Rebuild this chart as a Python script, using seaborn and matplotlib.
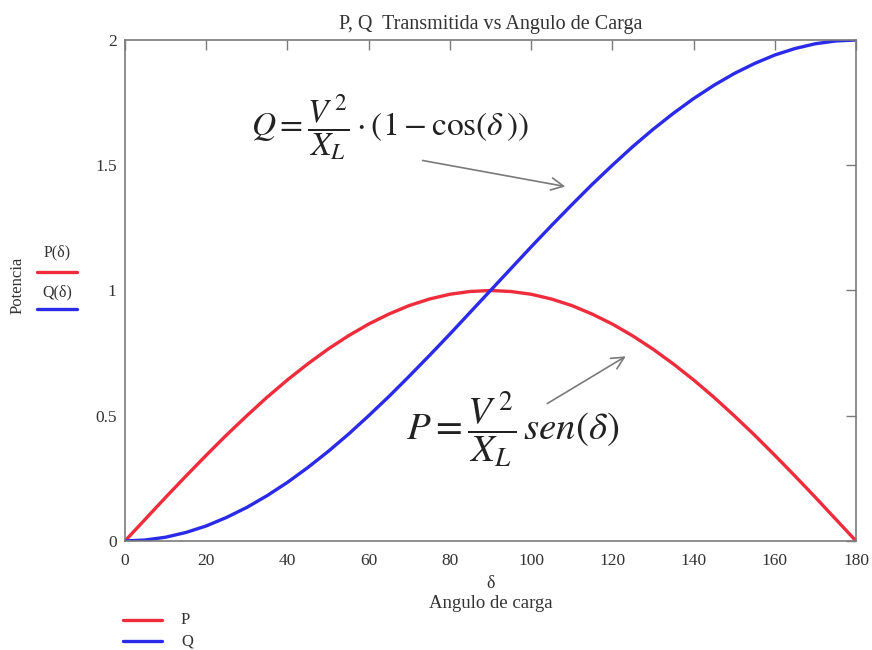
import matplotlib
matplotlib.use("Agg")
import matplotlib.pyplot as plt
import seaborn as sns
import pandas as pd
from matplotlib.lines import Line2D

# Load angle (degrees) and transmitted power values
delta = [0, 5, 10, 15, 20, 25, 30, 35, 40, 45, 50, 55, 60, 65, 70, 75, 80, 85, 90,
         95, 100, 105, 110, 115, 120, 125, 130, 135, 140, 145, 150, 155, 160, 165,
         170, 175, 180]
p_vals = [0.0, 0.087, 0.174, 0.259, 0.342, 0.423, 0.5, 0.574, 0.643, 0.707, 0.766,
          0.819, 0.866, 0.906, 0.940, 0.966, 0.985, 0.996, 1.0, 0.996, 0.985, 0.966,
          0.940, 0.906, 0.866, 0.819, 0.766, 0.707, 0.643, 0.574, 0.5, 0.423, 0.342,
          0.259, 0.174, 0.087, 0.0]
q_vals = [0.0, 0.004, 0.015, 0.034, 0.060, 0.094, 0.134, 0.181, 0.234, 0.293, 0.357,
          0.426, 0.5, 0.577, 0.658, 0.741, 0.826, 0.913, 1.0, 1.087, 1.174, 1.259,
          1.342, 1.423, 1.5, 1.574, 1.643, 1.707, 1.766, 1.819, 1.866, 1.906, 1.940,
          1.966, 1.985, 1.996, 2.0]
x_ticks = [0, 20, 40, 60, 80, 100, 120, 140, 160, 180]
y_ticks = [0, 0.5, 1, 1.5, 2]
y_tick_labels = ["0", "0.5", "1", "1.5", "2"]

RED = "#ee2c3c"
BLUE = "#2a2ae8"
GRAY = "#7a7a7a"
TXT = "#333333"

sns.set_theme(style="white")
plt.rcParams["font.family"] = ["Liberation Serif", "DejaVu Serif"]
plt.rcParams["mathtext.fontset"] = "stix"

df = pd.DataFrame({"delta": delta, "P": p_vals, "Q": q_vals})

fig = plt.figure(figsize=(8.72, 6.5), dpi=100)
ax = fig.add_axes([0.1433, 0.1677, 0.8384, 0.7708])

sns.lineplot(data=df, x="delta", y="P", ax=ax, color=RED, linewidth=2.4)
sns.lineplot(data=df, x="delta", y="Q", ax=ax, color=BLUE, linewidth=2.4)

ax.set_xlim(0, 180)
ax.set_ylim(0, 2)
ax.set_xticks(x_ticks)
ax.set_yticks(y_ticks)
ax.set_yticklabels(y_tick_labels)
ax.tick_params(axis="both", direction="in", length=7, width=1, color=GRAY,
               labelsize=12.5, labelcolor=TXT, top=True, right=True)
ax.tick_params(axis="x", pad=9)
ax.tick_params(axis="y", pad=6)
for s in ax.spines.values():
    s.set_visible(True)
    s.set_color(GRAY)
    s.set_linewidth(1.2)

ax.set_xlabel("")
ax.set_ylabel("")
ax.set_title("P, Q  Transmitida vs Angulo de Carga", fontsize=14.5, color=TXT, pad=8)

# x-axis label (two lines)
fig.text(0.5625, 1 - 584 / 650, "δ", ha="center", va="center", fontsize=13, color=TXT)
fig.text(0.5625, 1 - 603 / 650, "Angulo de carga", ha="center", va="center",
         fontsize=13.5, color=TXT)

# y-axis label with trace legend
fig.text(18 / 872, 1 - 285 / 650, "Potencia", rotation=90, ha="center", va="center",
         fontsize=12, color=TXT)
fig.text(57 / 872, 1 - 252 / 650, "P(δ)", ha="center", va="center", fontsize=11.5,
         color=TXT)
fig.add_artist(Line2D([37 / 872, 77 / 872], [1 - 272 / 650] * 2, color=RED, lw=2.4))
fig.text(57 / 872, 1 - 292 / 650, "Q(δ)", ha="center", va="center", fontsize=11.5,
         color=TXT)
fig.add_artist(Line2D([37 / 872, 77 / 872], [1 - 309 / 650] * 2, color=BLUE, lw=2.4))

# bottom legend
fig.add_artist(Line2D([123 / 872, 162 / 872], [1 - 620 / 650] * 2, color=RED, lw=2.4))
fig.text(181 / 872, 1 - 620 / 650, "P", ha="left", va="center", fontsize=12, color=TXT)
fig.add_artist(Line2D([123 / 872, 162 / 872], [1 - 641 / 650] * 2, color=BLUE, lw=2.4))
fig.text(181 / 872, 1 - 641 / 650, "Q", ha="left", va="center", fontsize=12, color=TXT)

# formulas with arrows
ax.text(65.3, 1.65, r"$Q=\dfrac{V^{\,2}}{X_L}\cdot(1-\cos(\delta\,))$",
        ha="center", va="center", fontsize=24, color="#222222")
ax.annotate("", xy=(109.1, 1.413), xytext=(72.6, 1.521),
            arrowprops=dict(arrowstyle="->", color=GRAY, lw=1.2, mutation_scale=22))

ax.text(95.5, 0.445, r"$P=\dfrac{V^{\,2}}{X_L}\,sen(\delta)$",
        ha="center", va="center", fontsize=28, color="#222222")
ax.annotate("", xy=(123.9, 0.743), xytext=(103.4, 0.543),
            arrowprops=dict(arrowstyle="->", color=GRAY, lw=1.2, mutation_scale=22))

fig.savefig("out.png", dpi=100, facecolor="white")
